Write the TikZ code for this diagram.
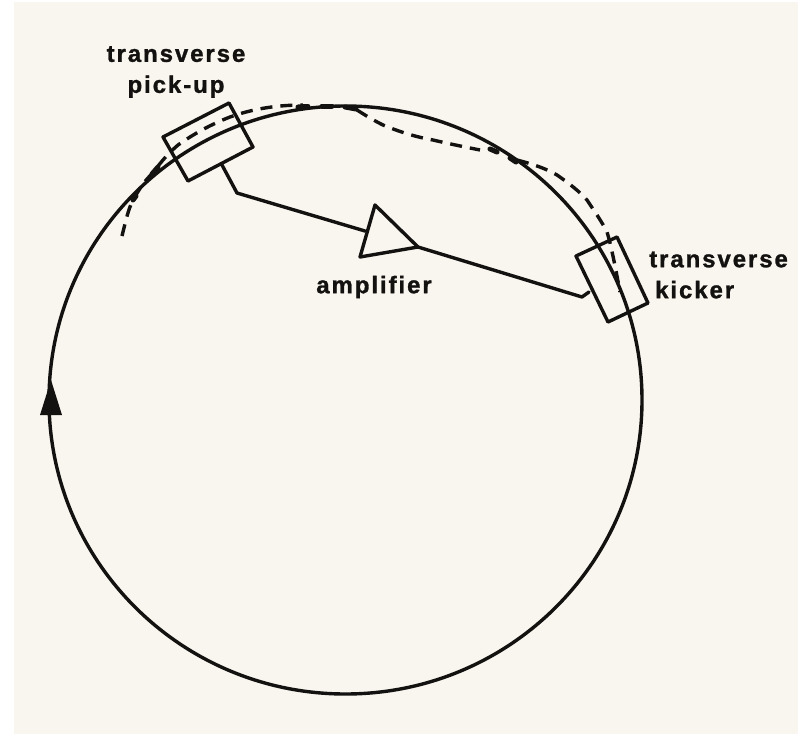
\documentclass[tikz,border=0pt]{standalone}
\usepackage{fontspec}
\setmainfont{Liberation Sans}
\newfontfamily\lblfont[LetterSpace=8,FakeBold=1.2]{Liberation Sans Bold}
\usetikzlibrary{arrows.meta}
\definecolor{paper}{HTML}{F9F6EF}
\definecolor{ink}{HTML}{141210}
\tikzset{
  x=1pt,y=-1pt,
  line/.style={draw=ink,line width=3.4pt,line join=round,line cap=round},
  dash line/.style={draw=ink,line width=3.4pt,dash pattern=on 12pt off 8pt},
  blob line/.style={draw=ink,line width=5pt,line cap=round},
  lbl/.style={text=ink,font=\lblfont\fontsize{24}{31}\selectfont,inner sep=0pt},
}
\begin{document}
\begin{tikzpicture}
\useasboundingbox (0,0) rectangle (798,734);
\fill[paper] (14,2) rectangle (798,734);
\coordinate (c) at (345.5,400);
\draw[line] (c) ellipse[x radius=296.5,y radius=294];
\fill[ink] (51,380) -- (40,415) -- (62,415) -- cycle;
% dashed orbit
\draw[dash line] (122,236) .. controls (126,220) and (128,210) .. (133,200)
  .. controls (140,188) and (145,180) .. (153,173)
  .. controls (162,160) and (170,152) .. (178,145)
  .. controls (195,133) and (212,124) .. (230,117)
  .. controls (255,108) and (280,105) .. (303,105);
\draw[dash line] (357,110) .. controls (368,117) and (375,121) .. (383,125)
  .. controls (400,132) and (416,137) .. (433,140)
  .. controls (450,144) and (465,147) .. (480,150);
\draw[dash line] (517,160) .. controls (532,164) and (545,168) .. (557,175)
  .. controls (570,184) and (580,192) .. (587,200)
  .. controls (595,212) and (602,222) .. (607,232)
  .. controls (611,245) and (615,265) .. (620,292);
% places where the two paths merge
\draw[blob line] (298,107) -- (308,106.5);
\draw[blob line] (322,106) -- (332,106);
\draw[blob line] (345,107) -- (356,109);
\draw[blob line] (490,149) -- (497,152);
\draw[blob line] (510,158) -- (516,162);
\draw[blob line] (133,200) -- (136,196);
\draw[blob line] (152,174) -- (158,167);
% pick-up
\coordinate (p1) at (163,137);\coordinate (p2) at (229,103);
\coordinate (p3) at (253,147);\coordinate (p4) at (188,181);
\draw[line] (p1) -- (p2) -- (p3) -- (p4) -- cycle;
% amplifier
\node[coordinate] (tA) at (375,205) {};
\node[coordinate] (tB) at (360,257) {};
\node[coordinate] (tC) at (418,247) {};
\draw[line] (tA) -- (tB) -- (tC) -- cycle;
% kicker
\coordinate (k1) at (576,256);\coordinate (k2) at (617,237);
\coordinate (k3) at (648,303);\coordinate (k4) at (608,322);
\draw[line] (k1) -- (k2) -- (k3) -- (k4) -- cycle;
% wires
\coordinate (w1) at (222,165);\coordinate (w2) at (237,193);\coordinate (w3) at (365,231);
\coordinate (w4) at (582,297);\coordinate (w5) at (589,292);
\draw[line] (w1) -- (w2) -- (w3);
\draw[line] (tC) -- (w4) -- (w5);
% labels
\node[lbl,align=center] (pick) at (176,72) {transverse\\pick-up};
\node[lbl,align=left,anchor=west] (kick) at (649,275) {transverse\\\hspace*{6pt}kicker};
\node[lbl] (amp) at (374,287) {amplifier};
\end{tikzpicture}
\end{document}
